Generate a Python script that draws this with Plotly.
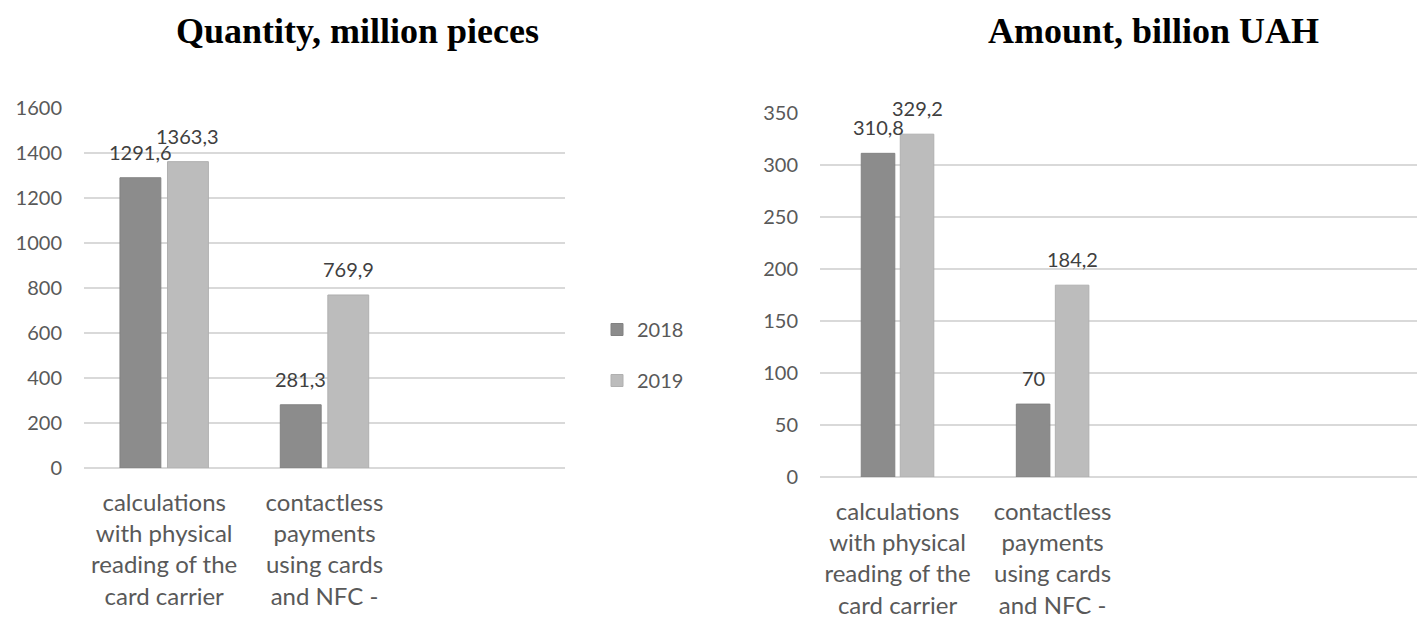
import plotly.graph_objects as go

# Category labels (wrapped as shown on the axis); a third slot is left blank
categories = [
    "calculations<br>with physical<br>reading of the<br>card carrier",
    "contactless<br>payments<br>using cards<br>and NFC -",
]
years = ["2018", "2019"]

# Quantity of operations, million pieces
quantity_2018 = [1291.6, 281.3]
quantity_2019 = [1363.3, 769.9]

# Amount of operations, billion UAH
amount_2018 = [310.8, 70]
amount_2019 = [329.2, 184.2]

colors = {"2018": "#8c8c8c", "2019": "#bcbcbc"}
line_colors = {"2018": "#828282", "2019": "#b0b0b0"}

W, H = 1417, 621
TEXT_FONT = "Lato, 'Open Sans', sans-serif"
TITLE_FONT = "'Liberation Serif', 'Times New Roman', serif"
TICK_COLOR = "#595959"
LABEL_COLOR = "#404040"
GROUP_GAP = 0.14


def px_x(p):
    return p / W


def px_y(p):
    return 1 - p / H


def label(v):
    return f"{v:g}".replace(".", ",")


# panel geometry: domains in pixels, axis ranges and the gap between groups
panels = [
    dict(xa="x", ya="y", series={"2018": quantity_2018, "2019": quantity_2019},
         xdom=(84, 565), ydom=(468, 108), xr=[-0.5, 2.5],
         yr=[0, 1602], dtick=200, gap=0.407, legend=True),
    dict(xa="x2", ya="y2", series={"2018": amount_2018, "2019": amount_2019},
         xdom=(820, 1417), ydom=(477, 112), xr=[-0.5, 3.35],
         yr=[0, 350.5], dtick=50, gap=0.497, legend=False),
]

fig = go.Figure()
annotations = []
for p in panels:
    unit_px = (p["xdom"][1] - p["xdom"][0]) / (p["xr"][1] - p["xr"][0])
    slot = (1 - p["gap"]) / len(years)
    bar_w = slot * (1 - GROUP_GAP)
    for j, yr in enumerate(years):
        vals = p["series"][yr]
        offset = -(1 - p["gap"]) / 2 + j * slot + slot * GROUP_GAP / 2
        fig.add_trace(go.Bar(
            x=categories, y=vals, name=yr,
            xaxis=p["xa"], yaxis=p["ya"],
            width=bar_w, offset=offset,
            marker=dict(color=colors[yr], line=dict(color=line_colors[yr], width=1)),
            showlegend=p["legend"], legendgroup=yr,
        ))
        # value labels centred above each bar
        for cat, v in zip(categories, vals):
            annotations.append(dict(
                x=cat, y=v, xref=p["xa"], yref=p["ya"],
                text=label(v), showarrow=False,
                xanchor="center", yanchor="middle",
                xshift=(offset + bar_w / 2) * unit_px, yshift=26,
                font=dict(family=TEXT_FONT, size=20, color=LABEL_COLOR),
            ))

annotations += [
    dict(text="<b>Quantity, million pieces</b>", x=px_x(357), y=px_y(31),
         xref="paper", yref="paper", showarrow=False,
         xanchor="center", yanchor="middle",
         font=dict(family=TITLE_FONT, size=36, color="black")),
    dict(text="<b>Amount, billion UAH</b>", x=px_x(1153), y=px_y(31),
         xref="paper", yref="paper", showarrow=False,
         xanchor="center", yanchor="middle",
         font=dict(family=TITLE_FONT, size=36, color="black")),
]


def x_axis(p):
    return dict(domain=[px_x(p["xdom"][0]), px_x(p["xdom"][1])], range=p["xr"],
                anchor=p["ya"], showgrid=False, showline=False, zeroline=False,
                ticks="", automargin=False, ticklabelstandoff=18,
                tickfont=dict(family=TEXT_FONT, size=24, color=TICK_COLOR))


def y_axis(p):
    return dict(domain=[px_y(p["ydom"][0]), px_y(p["ydom"][1])], range=p["yr"],
                dtick=p["dtick"], anchor=p["xa"], showgrid=True,
                gridcolor="#d9d9d9", gridwidth=2, zeroline=True,
                zerolinecolor="#d9d9d9", zerolinewidth=2, showline=False,
                ticks="", automargin=False, ticklabelstandoff=21,
                tickfont=dict(family=TEXT_FONT, size=20, color=TICK_COLOR))


fig.update_layout(
    width=W, height=H,
    margin=dict(l=0, r=0, t=0, b=0),
    paper_bgcolor="white", plot_bgcolor="white",
    barmode="group",
    xaxis=x_axis(panels[0]), yaxis=y_axis(panels[0]),
    xaxis2=x_axis(panels[1]), yaxis2=y_axis(panels[1]),
    legend=dict(
        x=px_x(597), y=px_y(355), xanchor="left", yanchor="middle",
        font=dict(family=TEXT_FONT, size=20, color=TICK_COLOR),
        tracegroupgap=22, itemwidth=30, bgcolor="rgba(0,0,0,0)",
    ),
    annotations=annotations,
)

fig.write_html("out.html")
